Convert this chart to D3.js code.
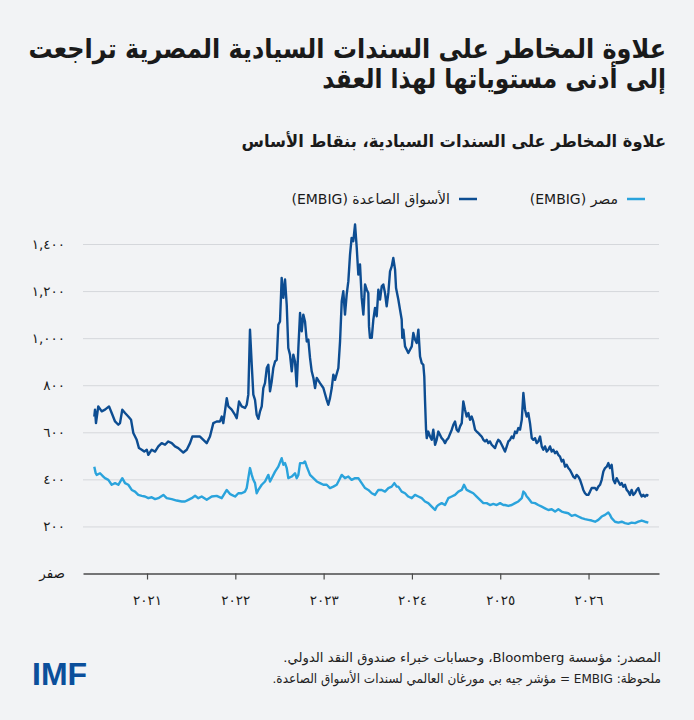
<!DOCTYPE html>
<html>
<head>
<meta charset="utf-8">
<style>
  body { margin: 0; background: #f2f3f5; }
  svg { display: block; }
</style>
</head>
<body>
<svg id="chart"></svg>
<script src="https://cdnjs.cloudflare.com/ajax/libs/d3/7.8.5/d3.min.js"></script>
<script>
// emerging markets (EMBIG) spread, bps - dark line
var emDates = [
  2020.403,2020.411,2020.422,2020.448,2020.487,2020.524,2020.570,2020.600,2020.638,2020.675,
  2020.694,2020.720,2020.751,2020.788,2020.819,2020.845,2020.883,2020.909,2020.940,2020.969,
  2020.997,2021.015,2021.053,2021.091,2021.128,2021.166,2021.204,2021.241,2021.280,2021.317,
  2021.354,2021.411,2021.450,2021.487,2021.513,2021.563,2021.600,2021.638,2021.676,2021.713,
  2021.751,2021.789,2021.827,2021.846,2021.864,2021.903,2021.921,2021.959,
  2021.997,2022.016,2022.042,2022.072,2022.110,2022.129,2022.147,2022.166,2022.186,2022.204,
  2022.223,2022.242,2022.261,2022.280,2022.299,2022.317,2022.336,2022.356,2022.374,2022.393,
  2022.412,2022.430,2022.450,2022.469,2022.487,2022.506,2022.525,2022.544,2022.563,2022.582,
  2022.600,2022.619,2022.639,2022.657,2022.676,2022.695,2022.714,2022.733,2022.752,2022.770,
  2022.789,2022.809,2022.827,2022.846,2022.865,2022.884,2022.903,2022.922,2022.959,2022.997,
  2023.035,2023.053,2023.072,2023.092,2023.110,2023.129,2023.167,2023.186,2023.205,2023.223,
  2023.242,2023.261,2023.280,2023.299,2023.317,2023.336,2023.356,2023.375,2023.393,2023.412,
  2023.431,2023.450,2023.469,
  2023.488,2023.506,2023.514,2023.525,2023.545,2023.563,2023.582,2023.601,2023.620,2023.639,
  2023.658,2023.676,2023.695,2023.714,2023.733,2023.752,2023.771,2023.789,2023.809,2023.820,
  2023.846,2023.865,2023.884,2023.891,2023.903,2023.922,2023.941,2023.959,2023.978,2023.998,
  2024.016,2024.035,2024.054,2024.073,2024.092,2024.111,2024.129,2024.140,2024.148,2024.160,
  2024.168,2024.185,2024.205,2024.224,2024.242,2024.262,2024.280,2024.299,2024.318,2024.337,
  2024.355,2024.375,2024.394,2024.412,2024.451,2024.469,2024.488,2024.507,2024.526,2024.545,
  2024.564,2024.582,2024.601,2024.620,2024.639,2024.658,2024.677,2024.695,2024.715,2024.733,
  2024.752,2024.771,2024.790,2024.809,2024.828,2024.847,2024.865,2024.884,2024.903,2024.922,
  2024.941,2024.960,2024.978,2024.998,2025.017,2025.035,2025.054,
  2025.074,2025.092,2025.111,2025.130,2025.148,2025.168,2025.187,2025.205,2025.224,2025.244,
  2025.262,2025.281,2025.300,2025.318,2025.337,2025.357,2025.375,2025.394,2025.413,2025.431,
  2025.451,2025.470,2025.488,2025.507,2025.527,2025.545,2025.564,2025.583,2025.601,2025.621,
  2025.640,2025.658,2025.677,2025.696,2025.714,2025.734,2025.752,2025.771,2025.790,2025.809,
  2025.827,2025.847,2025.865,2025.884,2025.904,2025.923,2025.941,2025.960,2025.979,2025.998,
  2026.017,2026.036,2026.054,2026.074,2026.092,2026.111,2026.130,2026.149,2026.168,2026.187,
  2026.206,2026.224,2026.243,2026.262,2026.281,2026.300,2026.319,2026.338,2026.357,2026.376,
  2026.394,2026.413,2026.432,2026.450,2026.469,2026.488,2026.507,2026.526,2026.545,2026.564,
  2026.583,2026.602,2026.620,2026.639,2026.658,2026.677
];
var emSpread = [
  667,696,639,710,689,696,710,682,646,632,
  639,696,682,667,653,597,568,533,526,518,
  526,504,526,518,540,554,547,561,554,540,
  533,514,526,554,582,582,582,568,554,582,
  639,646,646,667,639,745,710,696,
  674,660,731,710,703,717,760,1036,887,760,
  738,674,657,689,710,788,809,873,887,774,
  816,873,901,908,1057,1071,1256,1171,1249,1142,
  958,930,859,930,901,795,958,1107,1029,1100,
  1071,986,994,916,859,831,788,831,809,788,
  738,717,745,788,845,823,873,986,1157,1199,
  1100,1185,1242,1355,1426,1412,1483,1384,1270,1313,
  1171,1100,1228,
  1206,1192,1050,1001,1001,1079,1128,1093,1206,1164,
  1220,1228,1192,1135,1192,1284,1305,1341,1291,1213,
  1164,1121,1079,1001,1036,965,951,937,951,965,
  1022,994,979,1036,922,894,887,837,738,611,
  575,603,582,568,611,547,568,603,589,575,
  568,554,568,575,611,632,646,611,603,625,
  639,731,696,667,682,653,667,646,611,603,
  597,589,582,568,561,568,554,561,547,540,
  533,554,568,561,547,533,518,
  540,561,568,582,575,603,597,618,611,653,
  767,696,667,682,639,575,568,575,554,561,
  582,540,526,540,518,526,540,518,526,511,
  518,504,497,476,483,454,462,448,440,426,
  412,405,419,412,398,377,355,341,334,334,
  348,363,363,363,355,369,377,398,433,448,
  454,469,448,462,398,384,405,391,377,384,
  369,377,355,348,334,355,334,341,355,363,
  341,327,334,327,334,330
];

// Egypt (EMBIG) spread, bps - light line
var egDates = [
  2020.403,2020.419,2020.430,2020.468,2020.505,2020.524,2020.562,2020.600,2020.638,2020.675,
  2020.720,2020.751,2020.788,2020.827,2020.864,2020.901,2020.940,2020.977,2021.015,2021.053,
  2021.091,2021.128,2021.185,2021.223,2021.280,2021.336,2021.393,2021.430,2021.468,2021.506,
  2021.544,2021.581,2021.619,2021.676,2021.733,2021.789,2021.846,2021.903,2021.940,2021.959,
  2021.997,2022.034,2022.072,2022.110,2022.129,2022.147,2022.166,2022.186,2022.204,2022.223,
  2022.242,2022.261,2022.299,2022.336,2022.374,2022.393,2022.412,2022.450,2022.487,2022.525,
  2022.544,2022.563,2022.582,2022.600,2022.639,2022.676,2022.695,2022.714,2022.733,2022.770,
  2022.789,2022.809,2022.846,2022.884,2022.922,2022.959,2022.997,2023.035,2023.072,2023.110,
  2023.148,2023.186,2023.205,2023.242,2023.280,2023.317,2023.356,2023.393,2023.431,2023.469,
  2023.506,2023.545,2023.582,2023.620,2023.658,2023.695,2023.733,2023.771,2023.801,2023.828,2023.846,
  2023.884,2023.922,2023.959,2023.998,2024.035,2024.073,2024.111,2024.148,2024.185,2024.224,
  2024.262,2024.280,2024.299,2024.337,2024.375,2024.412,2024.451,2024.488,2024.526,2024.564,
  2024.590,2024.620,2024.658,2024.695,2024.733,2024.771,2024.809,2024.847,2024.884,2024.922,
  2024.960,2024.998,2025.035,2025.054,2025.092,2025.130,2025.168,2025.205,2025.244,2025.262,
  2025.281,2025.300,2025.318,2025.357,2025.394,2025.431,2025.470,2025.507,2025.545,2025.583,
  2025.621,2025.658,2025.696,2025.734,2025.771,2025.809,2025.847,2025.884,2025.923,2025.960,
  2025.998,2026.036,2026.074,2026.111,2026.149,2026.187,2026.224,2026.243,2026.262,2026.300,
  2026.338,2026.376,2026.413,2026.450,2026.488,2026.526,2026.564,2026.602,2026.639,2026.677
];
var egSpread = [
  454,426,419,426,412,405,398,377,384,377,
  405,384,377,355,348,334,330,327,320,324,
  316,320,334,320,316,310,306,306,313,320,
  330,320,327,313,327,330,320,355,338,334,
  327,341,341,348,363,405,448,419,398,384,
  341,355,377,391,419,391,405,433,454,490,
  462,469,448,405,412,426,405,419,469,469,
  476,454,419,405,391,384,377,377,363,369,
  377,405,419,405,412,398,405,405,384,363,
  355,341,334,355,355,348,363,369,384,369,369,
  348,341,327,320,334,327,320,306,299,284,
  270,284,291,299,291,320,327,334,348,355,
  377,355,348,341,327,313,299,299,291,296,
  291,299,291,291,287,291,299,306,320,348,
  341,327,320,301,299,291,284,277,270,273,
  263,273,263,259,256,245,249,242,235,231,
  228,225,220,228,242,249,259,249,235,220,
  216,220,214,211,216,214,220,225,220,216
];

var yTicks = [0, 200, 400, 600, 800, 1000, 1200, 1400];
var xTicks = [2021, 2022, 2023, 2024, 2025, 2026];
var seriesNames = ["الأسواق الصاعدة (EMBIG)", "مصر (EMBIG)"];
var seriesColors = ["#0d4d92", "#2aa3dc"];

var titleLines = ["علاوة المخاطر على السندات السيادية المصرية تراجعت", "إلى أدنى مستوياتها لهذا العقد"];
var subtitle = "علاوة المخاطر على السندات السيادية، بنقاط الأساس";
var notes = ["المصدر: مؤسسة Bloomberg، وحسابات خبراء صندوق النقد الدولي.",
             "ملحوظة: EMBIG = مؤشر جيه بي مورغان العالمي لسندات الأسواق الصاعدة."];

var width = 694, height = 720;
var arFont = "'DejaVu Sans', sans-serif";
var ink = "#1a1a1a";

// arabic-indic digits
function arDigits(s) {
    return String(s).replace(/[0-9]/g, function(d) { return "٠١٢٣٤٥٦٧٨٩"[+d]; });
}

var svg = d3.select("#chart")
    .attr("width", width)
    .attr("height", height);

svg.append("rect").attr("width", width).attr("height", height).attr("fill", "#f2f3f5");

// right-aligned rtl text, squeezed horizontally so it spans `w` pixels
function rtlText(str, right, base, size, bold, w, color) {
    var g = svg.append("g");
    var t = g.append("text")
        .attr("x", 0).attr("y", 0)
        .attr("direction", "rtl")
        .attr("text-anchor", "start")
        .style("font-family", arFont)
        .style("font-weight", bold ? "bold" : "normal")
        .style("font-size", size + "px")
        .attr("fill", color || ink)
        .text(str);
    var k = w / t.node().getComputedTextLength();
    g.attr("transform", "translate(" + right + "," + base + ") scale(" + k + ",1)");
    return t;
}

// titles
rtlText(titleLines[0], 666, 58, 27, true, 638);
rtlText(titleLines[1], 666, 88, 27, true, 344);
rtlText(subtitle, 666, 147, 17, true, 425);

// scales
var x = d3.scaleLinear().domain([2020.275, 2026.798]).range([83, 659]);
var y = d3.scaleLinear().domain([0, 1400]).range([573.5, 244]);

// y grid + labels
var yAxis = svg.append("g")
    .attr("transform", "translate(83,0)")
    .call(d3.axisLeft(y)
        .tickValues(yTicks)
        .tickSize(-576)
        .tickPadding(18)
        .tickFormat(function(d) { return d === 0 ? "صفر" : arDigits(d3.format(",")(d)); }));
yAxis.select(".domain").remove();
yAxis.selectAll(".tick line").attr("stroke", "#d5d7db").attr("stroke-width", 1)
    .filter(function(d) { return d === 0; }).remove();
yAxis.selectAll(".tick text")
    .style("font-family", arFont)
    .style("font-size", "13.5px")
    .attr("fill", ink);

// x axis
var xAxis = svg.append("g")
    .attr("transform", "translate(0," + y(0) + ")")
    .call(d3.axisBottom(x)
        .tickValues(xTicks)
        .tickSizeInner(6)
        .tickSizeOuter(0)
        .tickPadding(16)
        .tickFormat(function(d) { return arDigits(d); }));
xAxis.select(".domain").attr("stroke", "#4a4a4a").attr("stroke-width", 1.6);
xAxis.selectAll(".tick line").attr("stroke", "#4a4a4a").attr("stroke-width", 1.2);
xAxis.selectAll(".tick text")
    .style("font-family", arFont)
    .style("font-size", "13.5px")
    .attr("fill", ink);

// lines
var line = d3.line()
    .x(function(d) { return x(d[0]); })
    .y(function(d) { return y(d[1]); });

var series = [
    d3.zip(emDates, emSpread),
    d3.zip(egDates, egSpread)
];

svg.append("g").selectAll("path")
    .data(series)
    .enter().append("path")
    .attr("d", line)
    .attr("fill", "none")
    .attr("stroke", function(d, i) { return seriesColors[i]; })
    .attr("stroke-width", 2.4)
    .attr("stroke-linejoin", "round");

// legend
var legendRight = [477, 645];
var legend = svg.append("g").selectAll("g")
    .data(seriesNames)
    .enter().append("g")
    .attr("transform", function(d, i) { return "translate(" + legendRight[i] + ",199)"; });
legend.append("line")
    .attr("x1", -18).attr("x2", 0)
    .attr("stroke", function(d, i) { return seriesColors[i]; })
    .attr("stroke-width", 2.5);
legend.append("text")
    .attr("x", -27).attr("y", 5)
    .attr("direction", "rtl")
    .attr("text-anchor", "start")
    .style("font-family", arFont)
    .style("font-size", "14px")
    .attr("fill", ink)
    .text(function(d) { return d; });

// notes
rtlText(notes[0], 661, 662, 13, false, 378, "#222");
rtlText(notes[1], 661, 683, 13, false, 389, "#222");

// logo
svg.append("text")
    .attr("x", 32).attr("y", 685)
    .style("font-family", "'Liberation Sans', Arial, sans-serif")
    .style("font-weight", "bold")
    .style("font-size", "32px")
    .attr("fill", "#0b4f9b")
    .text("IMF");
</script>
</body>
</html>
